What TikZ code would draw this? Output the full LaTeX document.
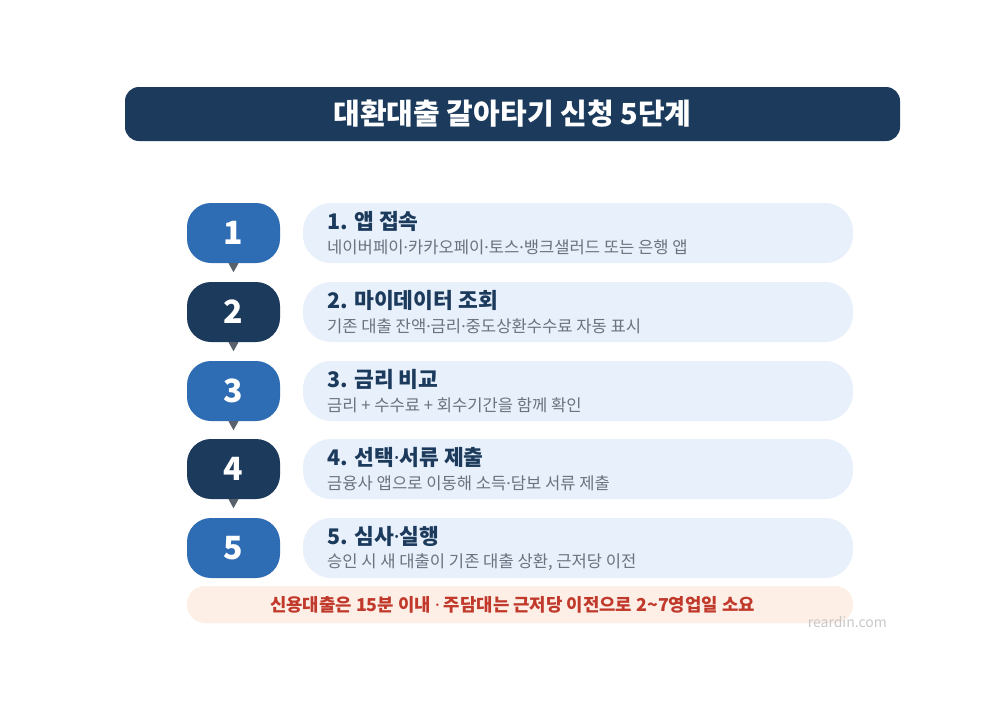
\documentclass[tikz,border=0pt]{standalone}
\usepackage{fontspec}
\newfontfamily\kr{Noto Sans CJK KR}
\newfontfamily\latin{Noto Sans}
\usetikzlibrary{positioning}
\definecolor{navy}{HTML}{1B3A5C}
\definecolor{stepblue}{HTML}{2E6DB4}
\definecolor{cardbg}{HTML}{E8F0FB}
\definecolor{subgray}{HTML}{6B7280}
\definecolor{tipgray}{HTML}{58606B}
\definecolor{notebg}{HTML}{FDEEE6}
\definecolor{notered}{HTML}{C0392B}
\definecolor{markgray}{HTML}{C8C8C8}
\newcommand{\md}{{\latin ·}}
\tikzset{
  badge/.style={minimum width=93pt, minimum height=60pt, rounded corners=24pt, inner sep=0pt,
    text=white, font=\kr\bfseries\fontsize{32}{36}\selectfont},
  card/.style={fill=cardbg, minimum width=550pt, minimum height=60pt, rounded corners=28pt, inner sep=0pt},
  steptitle/.style={anchor=west, inner sep=0pt, text=navy, font=\kr\bfseries\fontsize{21.5}{26}\selectfont},
  stepsub/.style={anchor=west, inner sep=0pt, text=subgray, font=\kr\fontsize{16.6}{20}\selectfont},
}
\newcommand{\downtip}[1]{\fill[tipgray] ([xshift=-5pt]#1.south) -- ([xshift=5pt]#1.south) -- ([yshift=-9pt]#1.south) -- cycle;}
\begin{document}
\begin{tikzpicture}[x=1pt, y=-1pt]
  \useasboundingbox[fill=white] (0,0) rectangle (1000,720);

  % title bar
  \node[fill=navy, minimum width=775pt, minimum height=54pt, rounded corners=14pt, inner sep=0pt,
    text=white, font=\kr\bfseries\fontsize{29}{33}\selectfont] (title) at (512.5,114) {대환대출 갈아타기 신청 5단계};

  % badges
  \node[badge, fill=stepblue] (B1) at (233.5,233) {1};
  \node[badge, fill=navy]     (B2) at (233.5,312) {2};
  \node[badge, fill=stepblue] (B3) at (233.5,391) {3};
  \node[badge, fill=navy]     (B4) at (233.5,469) {4};
  \node[badge, fill=stepblue] (B5) at (233.5,548) {5};

  \downtip{B1}
  \downtip{B2}
  \downtip{B3}
  \downtip{B4}

  % cards
  \node[card] (C1) at (578,233) {};
  \node[card] (C2) at (578,312) {};
  \node[card] (C3) at (578,391) {};
  \node[card] (C4) at (578,469) {};
  \node[card] (C5) at (578,548) {};

  \node[steptitle] (T1) at (327,221) {1. 앱 접속};
  \node[stepsub]   (S1) at (327,247) {네이버페이\md 카카오페이\md 토스\md 뱅크샐러드 또는 은행 앱};
  \node[steptitle] (T2) at (327,300) {2. 마이데이터 조회};
  \node[stepsub]   (S2) at (327,326) {기존 대출 잔액\md 금리\md 중도상환수수료 자동 표시};
  \node[steptitle] (T3) at (327,379) {3. 금리 비교};
  \node[stepsub]   (S3) at (327,405) {금리 + 수수료 + 회수기간을 함께 확인};
  \node[steptitle] (T4) at (327,457) {4. 선택\md 서류 제출};
  \node[stepsub]   (S4) at (327,483) {금융사 앱으로 이동해 소득\md 담보 서류 제출};
  \node[steptitle] (T5) at (327,536) {5. 심사\md 실행};
  \node[stepsub]   (S5) at (327,562) {승인 시 새 대출이 기존 대출 상환, 근저당 이전};

  % note
  \node[fill=notebg, minimum width=666pt, minimum height=37pt, rounded corners=18pt, inner sep=0pt] (note) at (520,604.5) {};
  \node[inner sep=0pt, text=notered, font=\kr\bfseries\fontsize{17.8}{21}\selectfont] (notetext) at (512.5,604.5)
    {신용대출은 15분 이내 \md{} 주담대는 근저당 이전으로 2\textasciitilde 7영업일 소요};

  \node[anchor=east, inner sep=0pt, text=markgray, font=\kr\fontsize{14}{16}\selectfont] (mark) at (887,622) {reardin.com};
\end{tikzpicture}
\end{document}
